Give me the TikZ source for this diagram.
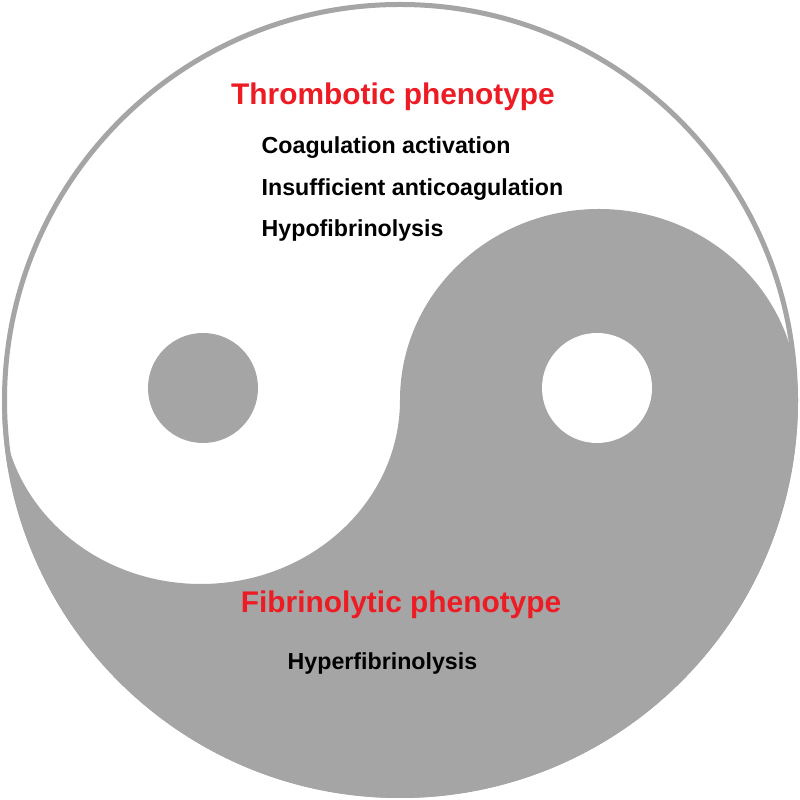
\documentclass[tikz,border=0pt]{standalone}
\usepackage{fontspec}
\setmainfont{Liberation Sans}
\definecolor{yygrey}{HTML}{A5A5A5}
\definecolor{phenored}{HTML}{ED1C24}
\tikzset{
  phenotype/.style={text=phenored,font=\bfseries\fontsize{8.5}{10}\selectfont,inner sep=0pt},
  mechanism/.style={text=black,font=\bfseries\fontsize{6.6}{8}\selectfont,inner sep=0pt,anchor=base west}
}
\begin{document}
\begin{tikzpicture}[scale=1.0]
    \useasboundingbox[fill=white] (0,0) rectangle (8,8);

    % lower half with the two bulges
    \fill[yygrey]
    (0.02,4) arc (180:360:3.98)
    arc (0:180:1.99 and 1.91)
    arc (0:-180:1.99 and 1.84) -- cycle;

    \draw[yygrey,line width=0.05cm] (4,4) circle (3.955);

    \fill[yygrey] (2.03,4.12) circle (0.55);
    \fill[white] (5.97,4.12) circle (0.55);

    \node[phenotype,anchor=base] (thrombotic) at (3.93,6.95) {Thrombotic phenotype};
    \node[mechanism] (coag) at (2.61,6.46) {Coagulation activation};
    \node[mechanism] (anticoag) at (2.61,6.04) {Insufficient anticoagulation};
    \node[mechanism] (hypo) at (2.61,5.63) {Hypofibrinolysis};

    \node[phenotype,anchor=base] (fibrinolytic) at (4.01,1.87) {Fibrinolytic phenotype};
    \node[mechanism] (hyper) at (2.87,1.30) {Hyperfibrinolysis};
\end{tikzpicture}
\end{document}
